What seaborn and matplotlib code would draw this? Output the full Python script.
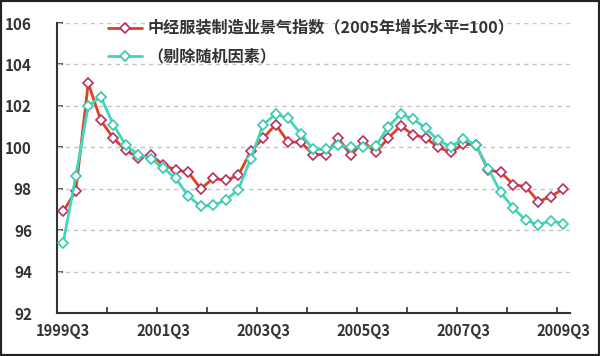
import matplotlib
matplotlib.use("Agg")
import matplotlib.pyplot as plt
import seaborn as sns
import numpy as np
import pandas as pd
from matplotlib.patches import Rectangle
from matplotlib.ticker import FixedLocator

# ---- data ----
quarters = ["1999Q3", "1999Q4", "2000Q1", "2000Q2", "2000Q3", "2000Q4",
            "2001Q1", "2001Q2", "2001Q3", "2001Q4", "2002Q1", "2002Q2",
            "2002Q3", "2002Q4", "2003Q1", "2003Q2", "2003Q3", "2003Q4",
            "2004Q1", "2004Q2", "2004Q3", "2004Q4", "2005Q1", "2005Q2",
            "2005Q3", "2005Q4", "2006Q1", "2006Q2", "2006Q3", "2006Q4",
            "2007Q1", "2007Q2", "2007Q3", "2007Q4", "2008Q1", "2008Q2",
            "2008Q3", "2008Q4", "2009Q1", "2009Q2", "2009Q3"]
index_values = [96.9, 97.9, 103.1, 101.3, 100.45, 99.85, 99.5, 99.65, 99.15, 98.9,
                98.8, 98.0, 98.5, 98.4, 98.65, 99.8, 100.45, 101.1, 100.25, 100.25,
                99.65, 99.65, 100.45, 99.62, 100.28, 99.75, 100.45, 101.03, 100.6, 100.45,
                100.0, 99.75, 100.15, 100.13, 98.9, 98.8, 98.2, 98.1, 97.38, 97.62,
                98.0]
adjusted_values = [95.4, 98.6, 102.0, 102.45, 101.1, 100.1, 99.65, 99.45, 99.0, 98.5,
                   97.65, 97.15, 97.2, 97.45, 97.95, 99.45, 101.1, 101.6, 101.4, 100.65,
                   99.9, 99.9, 100.1, 100.0, 100.0, 100.05, 101.0, 101.6, 101.37, 100.92,
                   100.34, 100.02, 100.42, 100.12, 98.97, 97.82, 97.07, 96.48, 96.26, 96.45,
                   96.32]
label_index = "中经服装制造业景气指数（2005年增长水平=100）"
label_adjusted = "（剔除随机因素）"
y_ticks = [92, 94, 96, 98, 100, 102, 104, 106]
x_label_quarters = ["1999Q3", "2001Q3", "2003Q3", "2005Q3", "2007Q3", "2009Q3"]

df = pd.DataFrame({"pos": np.arange(len(quarters)),
                   "quarter": quarters,
                   "index": index_values,
                   "adjusted": adjusted_values})

sns.set_theme(style="white")
plt.rcParams["font.family"] = ["Noto Sans CJK SC", "DejaVu Sans"]

fig = plt.figure(figsize=(6.0, 3.56), dpi=100)
ax = fig.add_axes([57 / 600, 1 - 313 / 356, 512.5 / 600, 290 / 356])

red = "#e2401e"
cyan = "#3fd8bc"
sns.lineplot(data=df, x="pos", y="index", ax=ax, color=red, lw=2.0,
             marker="D", markersize=4.8, markerfacecolor="white",
             markeredgecolor="#b8305e", markeredgewidth=1.2,
             label=label_index, zorder=3)
sns.lineplot(data=df, x="pos", y="adjusted", ax=ax, color=cyan, lw=2.0,
             marker="D", markersize=4.8, markerfacecolor="white",
             markeredgecolor="#36c8b0", markeredgewidth=1.2,
             label=label_adjusted, zorder=3)

ax.set_xlim(-0.5, len(quarters) - 0.5)
ax.set_ylim(92, 106)
ax.set_xlabel("")
ax.set_ylabel("")

# grid
for v in y_ticks[1:]:
    ax.axhline(v, color="#c4c4c4", lw=1.0, ls=(0, (3, 3)), zorder=1)

# spines
for s in ["top", "right"]:
    ax.spines[s].set_visible(False)
for s in ["left", "bottom"]:
    ax.spines[s].set_color("#333333")
    ax.spines[s].set_linewidth(1.5)

# ticks
ax.set_yticks(y_ticks)
ax.set_yticklabels([str(v) for v in y_ticks])
ax.tick_params(axis="y", direction="in", length=4, width=1.2, color="#333333",
               pad=18, labelsize=11, labelcolor="#333333", left=True)

label_pos = [quarters.index(q) for q in x_label_quarters]
ax.set_xticks(label_pos)
ax.set_xticklabels(x_label_quarters)
ax.xaxis.set_minor_locator(FixedLocator(np.arange(3.5, len(quarters) - 0.5, 4)))
ax.tick_params(axis="x", which="major", length=0, pad=7, labelsize=10.5,
               labelcolor="#333333")
ax.tick_params(axis="x", which="minor", direction="in", length=4, width=1.2,
               color="#333333", bottom=True)
for t in ax.get_xticklabels() + ax.get_yticklabels():
    t.set_fontweight("bold")

leg = ax.legend(loc="upper left", bbox_to_anchor=(0.1, 1.008), frameon=False,
                fontsize=11.6, handlelength=2.1, handletextpad=0.35,
                labelspacing=0.72, borderpad=0, borderaxespad=0)
for t in leg.get_texts():
    t.set_color("#333333")
    t.set_fontweight("bold")

fig.patches.append(Rectangle((0, 0), 1, 1, transform=fig.transFigure, fill=False,
                             edgecolor="#222222", lw=3, zorder=10))

fig.savefig("out.png", dpi=100, facecolor="white")
